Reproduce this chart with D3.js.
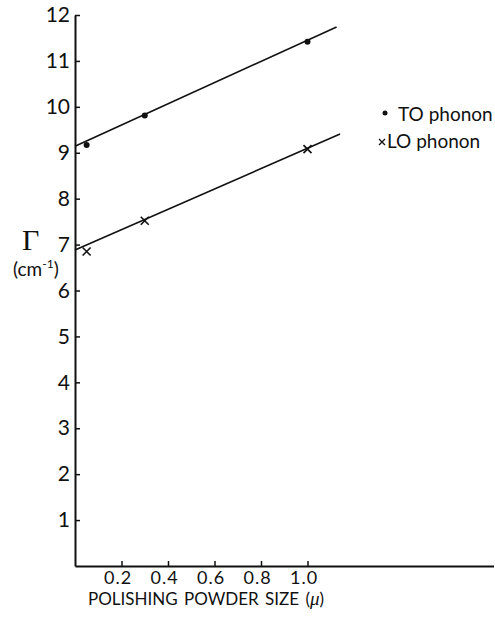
<!DOCTYPE html>
<html>
<head>
<meta charset="utf-8">
<script src="https://cdnjs.cloudflare.com/ajax/libs/d3/7.8.5/d3.min.js"></script>
<style>
  body { margin: 0; background: #fff; }
  svg { display: block; }
  text { font-family: Lato, "Open Sans", sans-serif; fill: #111; }
</style>
</head>
<body>
<svg id="chart" width="495" height="624"></svg>
<script>
// Linewidth vs polishing powder size

// measured points
var toSize = [0.05, 0.3, 1.0];
var toGamma = [9.17, 9.81, 11.42];
var loSize = [0.05, 0.3, 1.0];
var loGamma = [6.85, 7.52, 9.08];

// fitted straight lines at both ends
var toFitSize = [0, 1.125];
var toFitGamma = [9.14, 11.74];
var loFitSize = [0, 1.14];
var loFitGamma = [6.88, 9.41];

var xTicks = [0.2, 0.4, 0.6, 0.8, 1.0];
var yTicks = [1, 2, 3, 4, 5, 6, 7, 8, 9, 10, 11, 12];
var legendNames = ["TO phonon", "LO phonon"];

var svg = d3.select("#chart");
var x0 = 75;
var y0 = 566;

var xScale = d3.scaleLinear().domain([0, 1.8]).range([x0, 493.5]);
var yScale = d3.scaleLinear().domain([0, 12]).range([y0, 15]);

// axes, ticks pointing inward
var yAxis = d3.axisLeft(yScale)
	.tickValues(yTicks)
	.tickSizeInner(-5)
	.tickSizeOuter(0)
	.tickPadding(5)
	.tickFormat(d3.format("d"));
var yG = svg.append("g")
	.attr("transform", "translate(" + x0 + ",0)")
	.call(yAxis);
yG.selectAll("text").style("font-size", "21px").attr("font-family", null);

var xAxis = d3.axisBottom(xScale)
	.tickValues(xTicks)
	.tickSizeInner(-5)
	.tickSizeOuter(0)
	.tickPadding(5)
	.tickFormat(d3.format(".1f"));
var xG = svg.append("g")
	.attr("transform", "translate(0," + y0 + ")")
	.call(xAxis);
xG.selectAll("text")
	.style("font-size", "18px")
	.style("letter-spacing", "1px")
	.attr("dx", "-4")
	.attr("font-family", null);

svg.selectAll(".domain").attr("stroke", "#111").attr("stroke-width", 2);
svg.selectAll(".tick line").attr("stroke", "#111").attr("stroke-width", 1.5);

// fit lines
var line = d3.line()
	.x(function(d) { return xScale(d[0]); })
	.y(function(d) { return yScale(d[1]); });

var fits = [d3.zip(toFitSize, toFitGamma), d3.zip(loFitSize, loFitGamma)];
svg.selectAll("path.fit")
	.data(fits)
	.enter()
	.append("path")
	.attr("class", "fit")
	.attr("d", line)
	.attr("fill", "none")
	.attr("stroke", "#111")
	.attr("stroke-width", 1.6);

// TO points
svg.selectAll("circle.to")
	.data(d3.zip(toSize, toGamma))
	.enter()
	.append("circle")
	.attr("class", "to")
	.attr("cx", function(d) { return xScale(d[0]); })
	.attr("cy", function(d) { return yScale(d[1]); })
	.attr("r", 3)
	.attr("fill", "#111");

// LO points as crosses
function cross(size) {
	return "M" + (-size) + "," + (-size) + "L" + size + "," + size +
		"M" + (-size) + "," + size + "L" + size + "," + (-size);
}
svg.selectAll("path.lo")
	.data(d3.zip(loSize, loGamma))
	.enter()
	.append("path")
	.attr("class", "lo")
	.attr("transform", function(d) {
		return "translate(" + xScale(d[0]) + "," + yScale(d[1]) + ")";
	})
	.attr("d", cross(4))
	.attr("stroke", "#111")
	.attr("stroke-width", 1.6);

// legend
svg.append("circle")
	.attr("cx", 385).attr("cy", 113).attr("r", 2.5).attr("fill", "#111");
svg.append("text")
	.attr("x", 398).attr("y", 121)
	.style("font-size", "19px")
	.text(legendNames[0]);
svg.append("path")
	.attr("transform", "translate(382,142)")
	.attr("d", cross(3))
	.attr("stroke", "#111")
	.attr("stroke-width", 1.3);
svg.append("text")
	.attr("x", 387).attr("y", 148)
	.style("font-size", "19px")
	.text(legendNames[1]);

// y axis title
svg.append("text")
	.attr("x", 22).attr("y", 250)
	.style("font-family", "'Liberation Serif', serif")
	.style("font-size", "30px")
	.text("\u0393");
var unit = svg.append("text")
	.attr("x", 13).attr("y", 276)
	.style("font-size", "19px");
unit.append("tspan").text("(cm");
unit.append("tspan").attr("dy", -8).style("font-size", "12px").text("-1");
unit.append("tspan").attr("dy", 8).text(")");

// x axis title
var xt = svg.append("text")
	.attr("x", 88).attr("y", 605)
	.style("font-size", "17px")
	.style("word-spacing", "2px");
xt.append("tspan").text("POLISHING POWDER SIZE (");
xt.append("tspan")
	.style("font-family", "'Liberation Serif', serif")
	.style("font-style", "italic")
	.style("font-size", "19px")
	.text("\u03bc");
xt.append("tspan").text(")");
</script>
</body>
</html>
